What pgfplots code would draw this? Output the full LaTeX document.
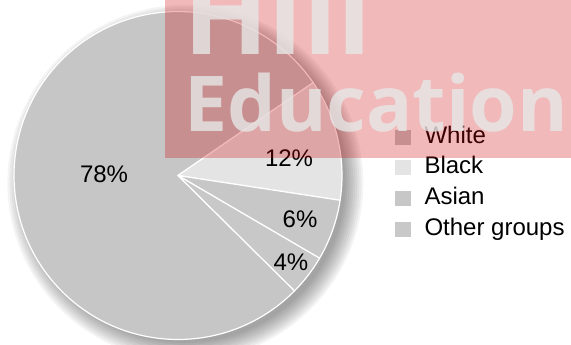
\documentclass[border=0pt]{standalone}
\usepackage{pgfplots}
\pgfplotsset{compat=1.18}
\usepackage{pgfplotstable}
\usepackage{fontspec}
\setmainfont{Liberation Sans}
\newfontfamily\wmfont{Open Sans}

\definecolor{cWhite}{RGB}{198,198,198}
\definecolor{cBlack}{RGB}{228,228,228}
\definecolor{cAsian}{RGB}{199,199,199}
\definecolor{cOther}{RGB}{200,200,200}
\definecolor{wmred}{RGB}{204,0,0}
\definecolor{wmtext}{RGB}{231,231,231}

\pgfplotstableread{
group value
White 78
Black 12
Asian 6
Other 4
}\piedata
\pgfplotstablegetelem{0}{value}\of\piedata\let\vA\pgfplotsretval
\pgfplotstablegetelem{1}{value}\of\piedata\let\vB\pgfplotsretval
\pgfplotstablegetelem{2}{value}\of\piedata\let\vC\pgfplotsretval
\pgfplotstablegetelem{3}{value}\of\piedata\let\vD\pgfplotsretval
\pgfmathsetmacro\sA{-44.7}
\pgfmathsetmacro\eA{\sA-3.6*\vA}
\pgfmathsetmacro\eB{\eA-3.6*\vB}
\pgfmathsetmacro\eC{\eB-3.6*\vC}
\pgfmathsetmacro\eD{\eC-3.6*\vD}
\def\R{164pt}

\begin{document}
\begin{tikzpicture}
\begin{axis}[
  hide axis, scale only axis, width=328pt, height=328pt,
  xmin=-1, xmax=1, ymin=-1, ymax=1,
  at={(178pt,169.5pt)}, anchor=origin, clip=false,
  legend cell align=left,
  legend style={at={(1.1616,0.65)}, anchor=north west, draw=none, fill=none,
    inner sep=0pt, outer sep=0pt, font=\fontsize{24}{28}\selectfont,
    row sep=8.7pt, column sep=14pt,
    nodes={inner sep=0pt, text height=17pt, text depth=5pt}},
  legend image code/.code={\fill[#1,draw=none] (0pt,-7.5pt) rectangle (15.5pt,7.5pt);},
]
% soft shadow
\pgfplotsinvokeforeach{160,162,...,178}{
  \fill[black, opacity=0.045] (axis cs:0.045,-0.045) circle[radius=#1pt];
}
% slices
\fill[cWhite, draw=white, line width=1.2pt, line join=round] (axis cs:0,0) -- ++(\sA:\R) arc[start angle=\sA, end angle=\eA, radius=\R] -- cycle;
\fill[cBlack, draw=white, line width=1.2pt, line join=round] (axis cs:0,0) -- ++(\eA:\R) arc[start angle=\eA, end angle=\eB, radius=\R] -- cycle;
\fill[cAsian, draw=white, line width=1.2pt, line join=round] (axis cs:0,0) -- ++(\eB:\R) arc[start angle=\eB, end angle=\eC, radius=\R] -- cycle;
\fill[cOther, draw=white, line width=1.2pt, line join=round] (axis cs:0,0) -- ++(\eC:\R) arc[start angle=\eC, end angle=\eD, radius=\R] -- cycle;
% labels
\node[font=\fontsize{24}{28}\selectfont] at (axis cs:-0.451,0.006) {\vA\%};
\node[font=\fontsize{24}{28}\selectfont] at (axis cs:0.677,0.107) {\vB\%};
\node[font=\fontsize{24}{28}\selectfont] at (axis cs:0.744,-0.268) {\vC\%};
\node[font=\fontsize{24}{28}\selectfont] at (axis cs:0.689,-0.527) {\vD\%};
% legend
\addlegendimage{fill=cWhite}\addlegendentry{White}
\addlegendimage{fill=cBlack}\addlegendentry{Black}
\addlegendimage{fill=cAsian}\addlegendentry{Asian}
\addlegendimage{fill=cOther}\addlegendentry{Other groups}
\end{axis}
% watermark overlay
\begin{scope}[transparency group=knockout]
\fill[wmred, opacity=0.275] (165pt,187pt) rectangle (580pt,360pt);
\node[anchor=base west, inner sep=0pt, text=wmtext, opacity=0.8,
  font=\wmfont\bfseries\fontsize{112}{112}\selectfont] at (183pt,290pt) {Hill};
\node[anchor=base west, inner sep=0pt, text=wmtext, opacity=0.8,
  font=\wmfont\bfseries\fontsize{77}{77}\selectfont] at (184pt,213pt) {Education};
\end{scope}
\pgfresetboundingbox
\useasboundingbox (0,0) rectangle (571pt,345pt);
\end{tikzpicture}
\end{document}
